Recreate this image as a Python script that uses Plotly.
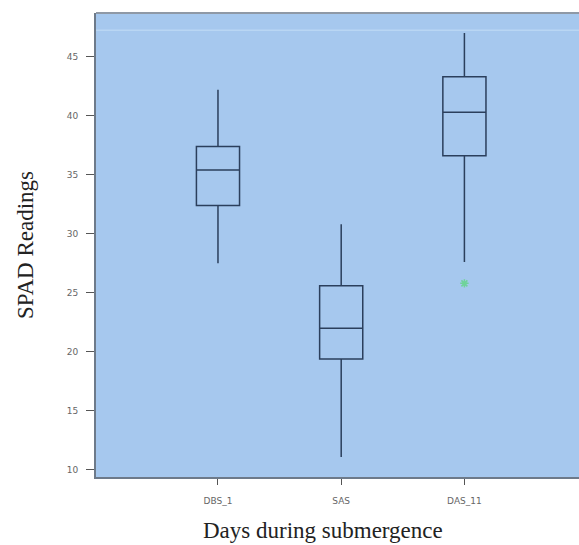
import plotly.graph_objects as go

categories = ["DBS_1", "SAS", "DAS_11"]
lower_whisker = [27.5, 11.1, 27.6]
q1_values = [32.4, 19.4, 36.6]
median_values = [35.4, 22.0, 40.3]
q3_values = [37.4, 25.6, 43.3]
upper_whisker = [42.2, 30.8, 47.0]

outlier_cats = ["DAS_11"]
outlier_values = [25.8]

y_ticks = [10, 15, 20, 25, 30, 35, 40, 45]

x_title = "Days during submergence"
y_title = "SPAD Readings"

fig = go.Figure()
fig.add_trace(go.Box(
    x=categories,
    q1=q1_values,
    median=median_values,
    q3=q3_values,
    lowerfence=lower_whisker,
    upperfence=upper_whisker,
    width=0.35,
    whiskerwidth=0,
    line=dict(color="#2b3f5c", width=1.5),
    fillcolor="rgba(0,0,0,0)",
    boxpoints=False,
    showlegend=False,
    hoverinfo="skip",
))
fig.add_trace(go.Scatter(
    x=outlier_cats,
    y=outlier_values,
    mode="markers",
    marker=dict(symbol="asterisk-open", size=7, color="#6fd39a", line=dict(color="#6fd39a", width=1.5)),
    showlegend=False,
))

tickfont = dict(family="DejaVu Sans", size=9, color="#666666")
titlefont = dict(family="Liberation Serif, Times New Roman", size=23, color="#222222")

fig.update_layout(
    width=579,
    height=545,
    autosize=False,
    margin=dict(l=96, r=0, t=13, b=68),
    paper_bgcolor="white",
    plot_bgcolor="#a6c8ee",
    xaxis=dict(
        type="category",
        categoryorder="array",
        categoryarray=categories,
        range=[-0.99, 2.93],
        showgrid=False,
        zeroline=False,
        showline=True,
        linecolor="#6d7a8a",
        linewidth=2,
        ticks="outside",
        ticklen=6,
        tickwidth=1,
        tickcolor="#555555",
        ticklabelstandoff=8,
        tickfont=tickfont,
    ),
    yaxis=dict(
        range=[9.4, 48.7],
        tickvals=y_ticks,
        showgrid=False,
        zeroline=False,
        showline=True,
        linecolor="#6d7a8a",
        linewidth=2,
        ticks="outside",
        ticklen=8,
        tickwidth=1,
        tickcolor="#555555",
        ticklabelstandoff=6,
        tickfont=tickfont,
    ),
    annotations=[
        dict(text=x_title, xref="paper", yref="paper", x=0.47, y=-0.115,
             xanchor="center", yanchor="middle", showarrow=False, font=titlefont),
        dict(text=y_title, xref="paper", yref="paper", x=-0.147, y=0.5,
             xanchor="center", yanchor="middle", textangle=-90, showarrow=False, font=titlefont),
    ],
)
fig.add_shape(type="line", xref="paper", yref="paper", x0=0, x1=1, y0=1, y1=1,
              line=dict(color="#8f99a6", width=2))
fig.add_shape(type="line", xref="paper", yref="paper", x0=0, x1=1, y0=0.963, y1=0.963,
              line=dict(color="#b9d6f3", width=1.5))

post = ("document.body.style.margin='0';"
        "var gd=document.getElementById('{plot_id}');"
        "Plotly.relayout(gd,{width:579,height:545});")
fig.write_html("out.html", config={"responsive": False, "displayModeBar": False}, post_script=post)
